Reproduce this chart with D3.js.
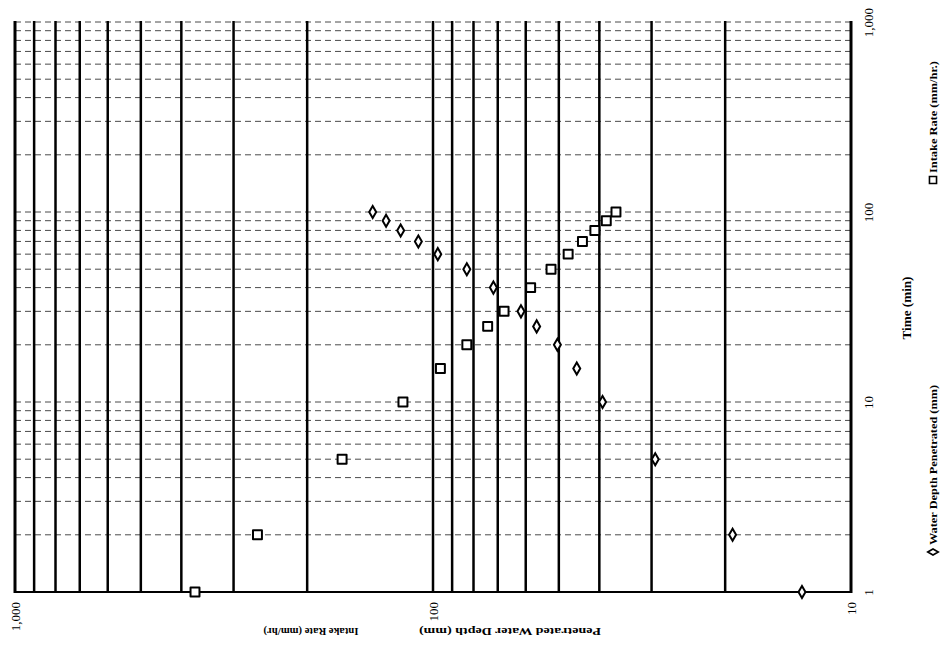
<!DOCTYPE html>
<html>
<head>
<meta charset="utf-8">
<script src="https://cdn.jsdelivr.net/npm/d3@7"></script>
<style>
  body { margin: 0; background: #fff; }
  text { font-family: "Liberation Serif", "Times New Roman", serif; fill: #000; }
</style>
</head>
<body>
<div class="chart"></div>
<script>
// lecturas del grafico escaneado (tiempo en min)
const times = [1, 2, 5, 10, 15, 20, 25, 30, 40, 50, 60, 70, 80, 90, 100];
const intakeRate = [371, 263, 165, 118, 96, 83, 74, 67.6, 58.4, 52.2, 47.5, 43.9, 41, 38.5, 36.5];
const depthPenetrated = [13.1, 19.2, 29.4, 39.3, 45.3, 50.4, 56.5, 61.6, 71.7, 83, 97.4, 108.4, 119.5, 129.5, 139.4];

const valueTicks = [1000, 100, 10];
const valueTickLabels = ["1,000", "100", "10"];
const timeTicks = [1, 10, 100, 1000];
const timeTickLabels = ["1", "10", "100", "1,000"];

const valueGrid = [1000, 900, 800, 700, 600, 500, 400, 300, 200,
                   100, 90, 80, 70, 60, 50, 40, 30, 20, 10];
const timeGrid = [1, 2, 3, 4, 5, 6, 7, 8, 9,
                  10, 20, 30, 40, 50, 60, 70, 80, 90,
                  100, 200, 300, 400, 500, 600, 700, 800, 900, 1000];

const width = 942;
const height = 656;

const svg = d3.select("div.chart")
    .append("svg")
    .attr("width", width)
    .attr("height", height);

// el grafico original esta girado 90 grados: valores en horizontal, tiempo en vertical
const x = d3.scaleLog().domain([1000, 10]).range([15, 851]);
const y = d3.scaleLog().domain([1, 1000]).range([592, 22]);

// lineas horizontales punteadas (tiempo)
svg.append("g")
    .selectAll("line")
    .data(timeGrid)
    .enter()
    .append("line")
    .attr("x1", x(1000))
    .attr("x2", x(10))
    .attr("y1", function(d) { return y(d); })
    .attr("y2", function(d) { return y(d); })
    .attr("stroke", function(d) { return d === 1 ? "#000" : "#4a4a4a"; })
    .attr("stroke-width", function(d) { return d === 1 ? 2 : 1; })
    .attr("stroke-dasharray", function(d) { return d === 1 ? null : "6,4"; });

// lineas verticales gruesas (valores)
svg.append("g")
    .selectAll("line")
    .data(valueGrid)
    .enter()
    .append("line")
    .attr("x1", function(d) { return x(d); })
    .attr("x2", function(d) { return x(d); })
    .attr("y1", y(1000) - 1)
    .attr("y2", y(1) + 1)
    .attr("stroke", "#000")
    .attr("stroke-width", function(d) { return (d === 1000 || d === 10) ? 3 : 2.5; });

// eje de valores (abajo)
const xAxis = svg.append("g")
    .attr("transform", "translate(0," + y(1) + ")")
    .call(d3.axisBottom(x)
        .tickValues(valueTicks)
        .tickSize(0)
        .tickFormat(function(d, i) { return valueTickLabels[i]; }));
xAxis.select(".domain").remove();
xAxis.selectAll("text")
    .attr("y", 0)
    .attr("dy", "0.35em")
    .attr("transform", "translate(0,10) rotate(-90)")
    .attr("text-anchor", "end")
    .style("font-size", "13px")
    .style("font-family", "Liberation Serif");

// eje de tiempo (derecha)
const yAxis = svg.append("g")
    .attr("transform", "translate(" + x(10) + ",0)")
    .call(d3.axisRight(y)
        .tickValues(timeTicks)
        .tickSize(0)
        .tickFormat(function(d, i) { return timeTickLabels[i]; }));
yAxis.select(".domain").remove();
yAxis.selectAll("text")
    .attr("x", 0)
    .attr("dy", "0.35em")
    .attr("transform", "translate(17,0) rotate(-90)")
    .attr("text-anchor", "middle")
    .style("font-size", "13px")
    .style("font-family", "Liberation Serif");

// puntos
const square = d3.symbol().type(d3.symbolSquare).size(80);
const diamond = d3.symbol().type(d3.symbolDiamond).size(42);

svg.append("g")
    .selectAll("path")
    .data(times)
    .enter()
    .append("path")
    .attr("d", square)
    .attr("transform", function(d, i) { return "translate(" + x(intakeRate[i]) + "," + y(d) + ")"; })
    .attr("fill", "#fff")
    .attr("stroke", "#000")
    .attr("stroke-width", 2)
    .attr("stroke-linejoin", "round");

svg.append("g")
    .selectAll("path")
    .data(times)
    .enter()
    .append("path")
    .attr("d", diamond)
    .attr("transform", function(d, i) { return "translate(" + x(depthPenetrated[i]) + "," + y(d) + ")"; })
    .attr("fill", "#fff")
    .attr("stroke", "#000")
    .attr("stroke-width", 2);

// titulos
svg.append("text")
    .attr("transform", "translate(907,308) rotate(-90)")
    .attr("text-anchor", "middle")
    .attr("dy", "0.35em")
    .attr("textLength", 63)
    .attr("lengthAdjust", "spacingAndGlyphs")
    .style("font-size", "12px")
    .style("font-weight", "bold")
    .text("Time (min)");

svg.append("text")
    .attr("transform", "translate(510,632) rotate(180)")
    .attr("text-anchor", "middle")
    .attr("dy", "0.35em")
    .attr("textLength", 182)
    .attr("lengthAdjust", "spacingAndGlyphs")
    .style("font-size", "11px")
    .style("font-weight", "bold")
    .text("Penetrated Water Depth (mm)");

svg.append("text")
    .attr("transform", "translate(311,632) rotate(180)")
    .attr("text-anchor", "middle")
    .attr("dy", "0.35em")
    .attr("textLength", 95)
    .attr("lengthAdjust", "spacingAndGlyphs")
    .style("font-size", "11px")
    .style("font-weight", "bold")
    .text("Intake Rate (mm/hr)");

// leyenda
const legend = [
    { label: "Water Depth Penetrated (mm)", kind: "diamond", y0: 552, len: 160 },
    { label: "Intake Rate (mm/hr.)", kind: "square", y0: 180, len: 112 }
];

const lg = svg.append("g")
    .selectAll("g")
    .data(legend)
    .enter()
    .append("g")
    .attr("transform", function(d) { return "translate(933," + d.y0 + ") rotate(-90)"; });

lg.append("path")
    .attr("d", function(d) {
        return d.kind === "square"
            ? d3.symbol().type(d3.symbolSquare).size(50)()
            : d3.symbol().type(d3.symbolDiamond).size(32)();
    })
    .attr("fill", "#fff")
    .attr("stroke", "#000")
    .attr("stroke-width", 1.6);

lg.append("text")
    .attr("x", 7)
    .attr("dy", "0.35em")
    .attr("textLength", function(d) { return d.len; })
    .attr("lengthAdjust", "spacingAndGlyphs")
    .style("font-size", "10px")
    .style("font-weight", "bold")
    .text(function(d) { return d.label; });
</script>
</body>
</html>
